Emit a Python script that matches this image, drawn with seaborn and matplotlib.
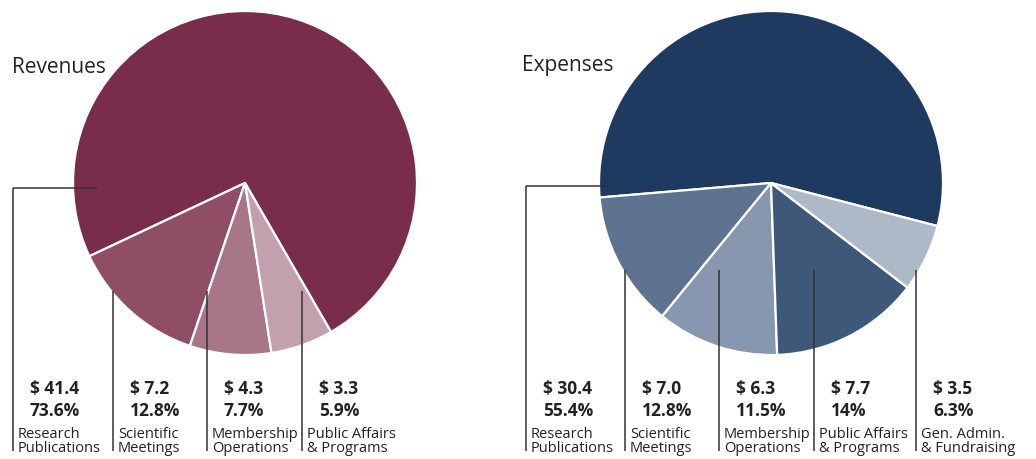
import matplotlib
matplotlib.use("Agg")
import matplotlib.pyplot as plt
import seaborn as sns

# ---- data ----
rev_categories = ["Research\nPublications", "Scientific\nMeetings", "Membership\nOperations", "Public Affairs\n& Programs"]
rev_values = [41.4, 7.2, 4.3, 3.3]
rev_pct_labels = ["73.6%", "12.8%", "7.7%", "5.9%"]
rev_colors = ["#7a2c4b", "#8f4d66", "#a77688", "#c3a0ae"]

exp_categories = ["Research\nPublications", "Scientific\nMeetings", "Membership\nOperations", "Public Affairs\n& Programs", "Gen. Admin.\n& Fundraising"]
exp_values = [30.4, 7.0, 6.3, 7.7, 3.5]
exp_pct_labels = ["55.4%", "12.8%", "11.5%", "14%", "6.3%"]
exp_colors = ["#1f3a60", "#5e7390", "#8797ad", "#3d5878", "#aeb9c7"]

sns.set_theme(style="white")
plt.rcParams["font.family"] = ["Open Sans", "DejaVu Sans"]

W, H = 1036, 459
fig = plt.figure(figsize=(W / 100, H / 100), dpi=100)
ax = fig.add_axes([0, 0, 1, 1])

TXT = "#222222"
LINE = "#333333"


def Y(y):
    return H - y


def draw_pie(values, colors, center, radius, startangle):
    ax.pie(values, colors=colors, center=(center[0], Y(center[1])), radius=radius,
           startangle=startangle, counterclock=True,
           wedgeprops=dict(edgecolor="white", linewidth=1.6), frame=False)


def draw_labels(values, pcts, cats, line_xs, line_tops, first_hline):
    for i, (v, p, c) in enumerate(zip(values, pcts, cats)):
        lx = line_xs[i]
        if i == 0:
            hx0, hx1, hy = first_hline
            ax.plot([hx0, hx1], [Y(hy), Y(hy)], color=LINE, lw=1.1, solid_capstyle="butt")
            ax.plot([lx, lx], [Y(hy), Y(451)], color=LINE, lw=1.1, solid_capstyle="butt")
        else:
            ax.plot([lx, lx], [Y(line_tops[i]), Y(451)], color=LINE, lw=1.1, solid_capstyle="butt")
        ax.text(lx + 17, Y(394), f"$ {v:.1f}", fontsize=12.5, fontweight="bold", color=TXT, va="baseline", ha="left")
        ax.text(lx + 17, Y(416), p, fontsize=12.5, fontweight="bold", color=TXT, va="baseline", ha="left")
        for k, line in enumerate(c.split("\n")):
            ax.text(lx + 5, Y(438 + 14 * k), line, fontsize=10.5, color=TXT, va="baseline", ha="left")


draw_pie(rev_values, rev_colors, (245, 183), 172, -60)
draw_pie(exp_values, exp_colors, (771, 183), 172, -14.5)

draw_labels(rev_values, rev_pct_labels, rev_categories,
            [13, 113, 207, 302], [None, 291, 291, 291], (13, 97, 188))
draw_labels(exp_values, exp_pct_labels, exp_categories,
            [526, 625, 719, 814, 916], [None, 270, 270, 270, 270], (526, 609, 186))

ax.text(12, Y(73), "Revenues", fontsize=15, color=TXT, va="baseline", ha="left")
ax.text(522, Y(71), "Expenses", fontsize=15, color=TXT, va="baseline", ha="left")

ax.set_xlim(0, W)
ax.set_ylim(0, H)
ax.set_aspect("equal")
ax.axis("off")

fig.savefig("out.png", dpi=100, facecolor="white")
